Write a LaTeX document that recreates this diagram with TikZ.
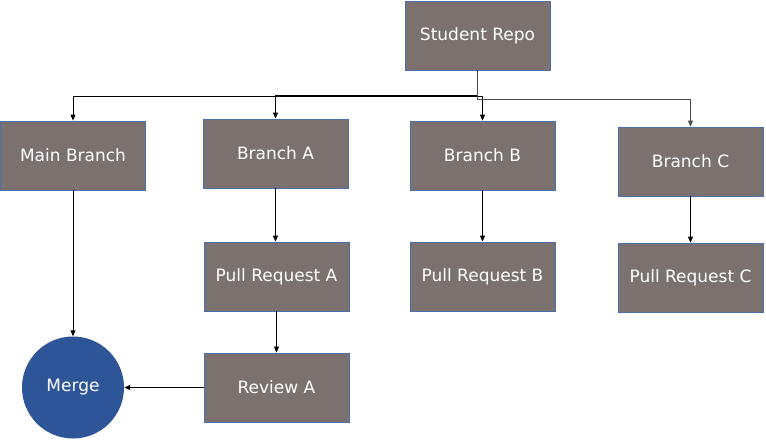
\documentclass[tikz,border=0pt]{standalone}
\usepackage{fontspec}
\setmainfont{DejaVu Sans}
\usetikzlibrary{arrows.meta}
\definecolor{boxfill}{HTML}{7B7270}
\definecolor{boxline}{HTML}{4A6FB0}
\definecolor{mergefill}{HTML}{2E5597}
\tikzset{
  lbl/.style={text=white, font=\fontsize{17}{20}\selectfont},
  box/.style={draw=boxline, line width=0.8pt, fill=boxfill, minimum width=145pt, minimum height=69pt, inner sep=0pt, lbl},
  conn/.style={draw=black, line width=0.9pt, -{Triangle[length=6pt,width=5pt]}},
}
\begin{document}
\begin{tikzpicture}[x=1pt,y=-1pt]
\useasboundingbox (0,0) rectangle (766,442);
\node[box] (repo) at (477.5,35.5) {Student Repo};
\node[box] (main) at (73,155.5) {Main Branch};
\node[box] (ba) at (275.5,153.5) {Branch A};
\node[box] (bb) at (482.5,155.5) {Branch B};
\node[box] (bc) at (690.5,161.5) {Branch C};
\node[box] (pra) at (276.5,276.5) {Pull Request A};
\node[box] (prb) at (482.5,276.5) {Pull Request B};
\node[box] (prc) at (690.5,277.5) {Pull Request C};
\node[box] (ra) at (276.5,387.5) {Review A};
\node[circle, fill=mergefill, minimum size=102pt, inner sep=0pt, lbl] (merge) at (73,387.5) {Merge};
\draw[conn] (repo.south) -- ++(0,26) -| (main.north);
\draw[conn, line width=1.4pt] (repo.south) -- ++(0,25) -| (ba.north);
\draw[conn] (repo.south) -- ++(0,26) -| (bb.north);
\draw[conn, draw=black!70] (repo.south) -- ++(0,29) -| (bc.north);
\draw[conn] (main.south) -- (merge.north);
\draw[conn] (ba.south) -- (ba.south |- pra.north);
\draw[conn] (pra.south) -- (ra.north);
\draw[conn] (bb.south) -- (prb.north);
\draw[conn] (bc.south) -- (bc.south |- prc.north);
\draw[conn] (ra.west) -- (merge.east);
\end{tikzpicture}
\end{document}
